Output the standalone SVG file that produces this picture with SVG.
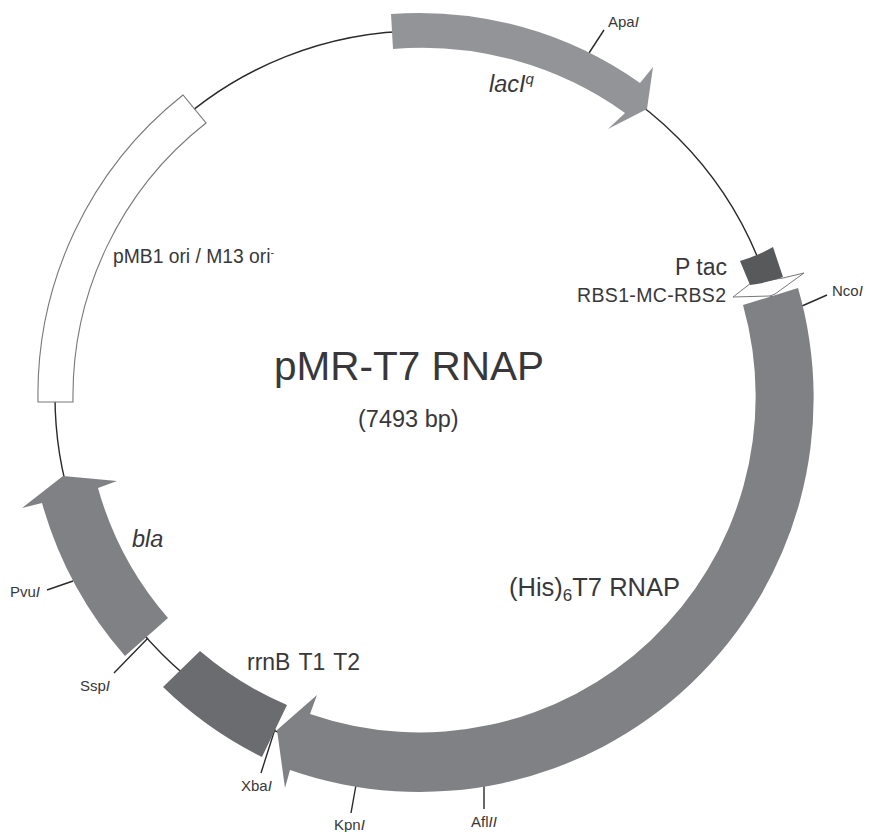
<svg xmlns="http://www.w3.org/2000/svg" width="871" height="832" viewBox="0 0 871 832">
<style>
text{font-family:"Liberation Sans",Arial,sans-serif;fill:#38383a}
.site{font-size:15px}
.i{font-style:italic}
.tick,.backbone{fill:none;stroke:#2b2a2b;stroke-width:1.4}
</style>
<rect width="871" height="832" fill="#fff"/>
<g id="connectors">
<circle class="backbone" cx="420" cy="396" r="365"/>
<path class="tick" d="M589 53L604 30M802 306L827 295M484 781V809M356 785L351 813M275 729L261 773M148 638L114 673M73 581L47 590"/>
</g>
<g id="lacI">
<path fill="#929497" d="M391 14A382 382 0 0 1 640 83L653 67L647 109L608 129L625 113A349 349 0 0 0 393 49Z"/>
<text x="489" y="92" font-size="23.5" class="i">lacI<tspan font-size="15" dy="-8">q</tspan></text>
</g>
<g id="ori">
<path fill="#fff" stroke="#77787b" stroke-width="1.1" d="M38 402A382 382 0 0 1 183 95L206 123A347 347 0 0 0 73 402Z"/>
<text x="113" y="263" font-size="19.3">pMB1 ori / M13 ori<tspan font-size="11" dy="-7">-</tspan></text>
</g>
<g id="RBS">
<path fill="#fff" stroke="#77787b" stroke-width="1" d="M733 297L751 283L783 278L804 273L775 294L770 296Z"/>
<text x="577" y="302" font-size="19.5" textLength="149">RBS1-MC-RBS2</text>
</g>
<g id="Ptac">
<path fill="#58595b" d="M740 261Q757 256 773 247L783 277Q767 283 750 285Z"/>
<text x="675" y="275" font-size="23">P tac</text>
</g>
<g id="T7RNAP">
<path fill="#7f8184" d="M798 288A394 394 0 0 1 290 770L285 788L277 730L317 695L310 714A336 336 0 0 0 743 305Z"/>
<text x="509" y="596" font-size="25.5">(His)<tspan font-size="17" dy="5">6</tspan><tspan dy="-5">T7 RNAP</tspan></text>
</g>
<g id="rrnB">
<path fill="#6b6c6f" d="M200 651A337 337 0 0 0 287 705L262 757A392 392 0 0 1 163 687Z"/>
<text x="247" y="670" font-size="23" word-spacing="2">rrnB T1 T2</text>
</g>
<g id="bla">
<path fill="#7f8184" d="M168 618A336 336 0 0 1 98 488L117 481L63 476L22 508L42 503A393 393 0 0 0 125 656Z"/>
<text x="132" y="547" font-size="23.5" class="i">bla</text>
</g>
<g id="title">
<text x="274" y="380" font-size="40.5">pMR-T7 RNAP</text>
<text x="358" y="427" font-size="23.5">(7493 bp)</text>
</g>
<g id="sites">
<text class="site" x="608" y="27">Apa<tspan class="i">I</tspan></text>
<text class="site" x="832" y="296">Nco<tspan class="i">I</tspan></text>
<text class="site" x="471" y="827">Afl<tspan class="i">II</tspan></text>
<text class="site" x="334" y="830">Kpn<tspan class="i">I</tspan></text>
<text class="site" x="241" y="791">Xba<tspan class="i">I</tspan></text>
<text class="site" x="80" y="691">Ssp<tspan class="i">I</tspan></text>
<text class="site" x="10" y="597">Pvu<tspan class="i">I</tspan></text>
</g>
</svg>
